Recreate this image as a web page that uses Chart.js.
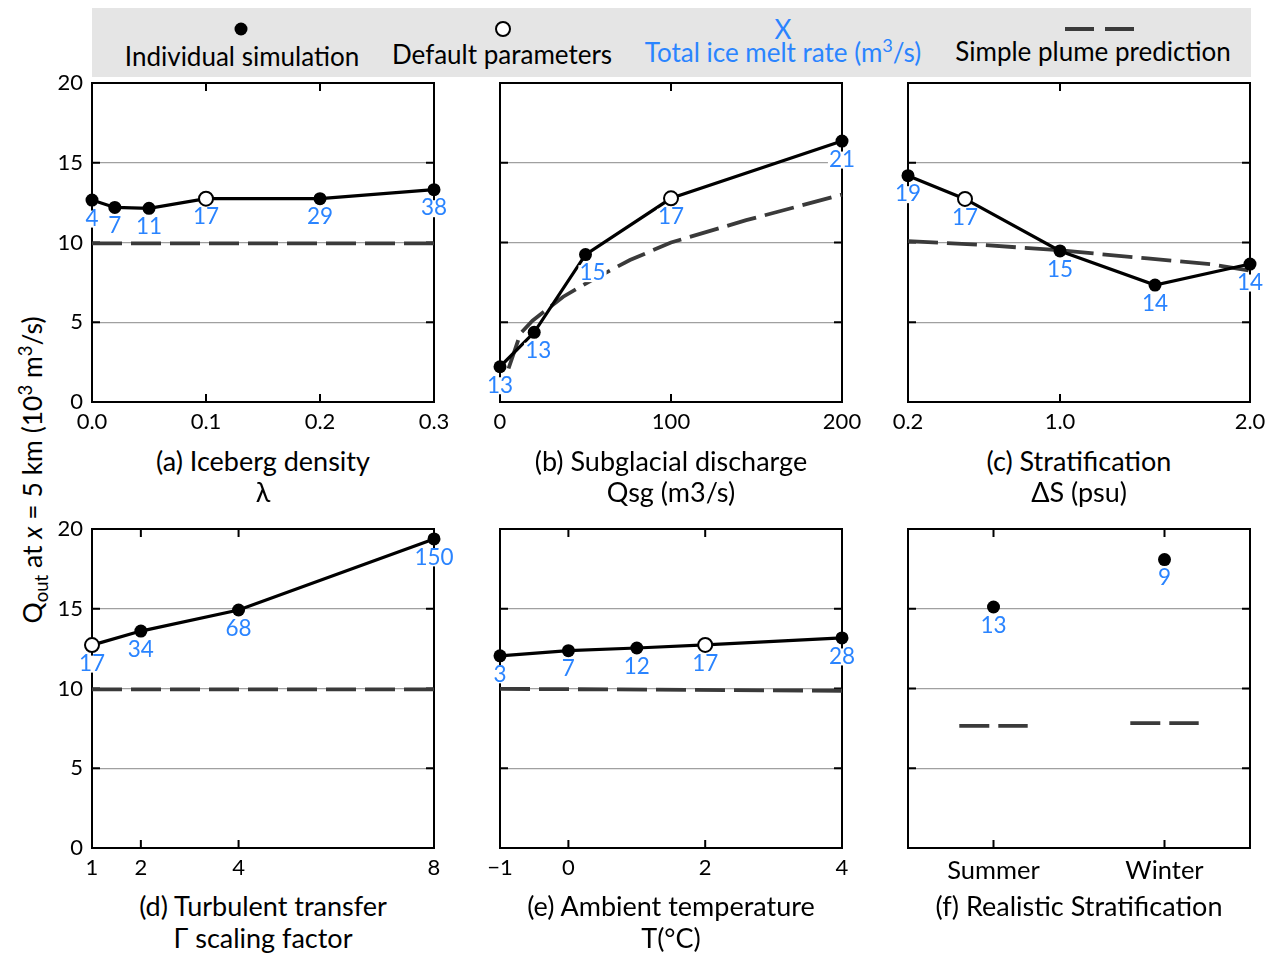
<!DOCTYPE html>
<html>
<head>
<meta charset="utf-8">
<script src="https://cdn.jsdelivr.net/npm/chart.js@4.4.1/dist/chart.umd.min.js"></script>
<style>
  body { margin: 0; width: 1274px; height: 953px; background: #fff; position: relative; font-family: Lato, "Noto Sans", sans-serif; color: #000; overflow: hidden; }
  canvas.panel { position: absolute; }
  .txt { position: absolute; white-space: nowrap; transform: translate(-50%, -50%); font-size: 26px; line-height: 1; }
  .cap { font-size: 27px; }
  #legend { position: absolute; left: 92px; top: 8px; width: 1159px; height: 69px; background: #e5e5e5; }
  .blue { color: #2a84ff; }
  sup, sub { font-size: 70%; line-height: 0; }
  #ylab { position: absolute; left: 32px; top: 470px; transform: translate(-50%, -50%) rotate(-90deg); font-size: 26.5px; white-space: nowrap; }
</style>
</head>
<body>
<div id="legend"></div>
<svg style="position:absolute;left:0;top:0" width="1274" height="80">
  <circle cx="241" cy="29" r="6.5" fill="#000"/>
  <circle cx="503" cy="29" r="7" fill="#fff" stroke="#000" stroke-width="2"/>
  <line x1="1065" y1="29" x2="1134" y2="29" stroke="#3a3a3a" stroke-width="4" stroke-dasharray="29 11"/>
</svg>
<div class="txt" style="left:242px;top:56px">Individual simulation</div>
<div class="txt" style="left:502px;top:54px">Default parameters</div>
<div class="txt blue" style="left:783px;top:29px">X</div>
<div class="txt blue" style="left:783px;top:52px">Total ice melt rate (m<sup>3</sup>/s)</div>
<div class="txt" style="left:1093px;top:51px">Simple plume prediction</div>

<div id="ylab">Q<sub>out</sub> at <i>x</i> = 5 km (10<sup>3</sup> m<sup>3</sup>/s)</div>

<canvas class="panel" id="pa"></canvas>
<canvas class="panel" id="pb"></canvas>
<canvas class="panel" id="pc"></canvas>
<canvas class="panel" id="pd"></canvas>
<canvas class="panel" id="pe"></canvas>
<canvas class="panel" id="pf"></canvas>

<div class="txt cap" style="left:263px;top:460px">(a) Iceberg density</div>
<div class="txt cap" style="left:263px;top:491px">λ</div>
<div class="txt cap" style="left:671px;top:460px">(b) Subglacial discharge</div>
<div class="txt cap" style="left:671px;top:491px">Qsg (m3/s)</div>
<div class="txt cap" style="left:1079px;top:460px">(c) Stratification</div>
<div class="txt cap" style="left:1079px;top:491px">ΔS (psu)</div>
<div class="txt cap" style="left:263px;top:905px">(d) Turbulent transfer</div>
<div class="txt cap" style="left:263px;top:937px">Γ scaling factor</div>
<div class="txt cap" style="left:671px;top:905px">(e) Ambient temperature</div>
<div class="txt cap" style="left:671px;top:937px">T(°C)</div>
<div class="txt cap" style="left:1079px;top:905px">(f) Realistic Stratification</div>

<script>
// shared y axis
const qTicks = [0, 5, 10, 15, 20];

// (a) iceberg density
const densX = [0, 0.02, 0.05, 0.1, 0.2, 0.3];
const densQ = [12.66, 12.2, 12.14, 12.75, 12.75, 13.31];
const densMelt = [4, 7, 11, 17, 29, 38];
const densPlumeX = [0, 0.3];
const densPlumeQ = [9.95, 9.95];
const densTicks = [0, 0.1, 0.2, 0.3];
const densTickLabels = ['0.0', '0.1', '0.2', '0.3'];

// (b) subglacial discharge
const qsgX = [0, 20, 50, 100, 200];
const qsgQ = [2.21, 4.37, 9.24, 12.77, 16.36];
const qsgMelt = [13, 13, 15, 17, 21];
const qsgPlumeX = [5, 12, 19, 37, 53, 76, 100, 144, 200];
const qsgPlumeQ = [2.1, 4.3, 5.1, 6.6, 7.6, 8.9, 10.0, 11.4, 13.0];
const qsgTicks = [0, 100, 200];
const qsgTickLabels = ['0', '100', '200'];

// (c) stratification
const stratX = [0.2, 0.5, 1.0, 1.5, 2.0];
const stratQ = [14.19, 12.73, 9.47, 7.33, 8.65];
const stratMelt = [19, 17, 15, 14, 14];
const stratPlumeX = [0.2, 0.6, 1.0, 1.46, 1.8, 2.0];
const stratPlumeQ = [10.09, 9.84, 9.51, 9.0, 8.63, 8.23];
const stratTicks = [0.2, 1.0, 2.0];
const stratTickLabels = ['0.2', '1.0', '2.0'];

// (d) turbulent transfer
const gammaX = [1, 2, 4, 8];
const gammaQ = [12.72, 13.6, 14.92, 19.38];
const gammaMelt = [17, 34, 68, 150];
const gammaPlumeX = [1, 8];
const gammaPlumeQ = [9.94, 9.94];
const gammaTicks = [1, 2, 4, 8];
const gammaTickLabels = ['1', '2', '4', '8'];

// (e) ambient temperature
const tempX = [-1, 0, 1, 2, 4];
const tempQ = [12.05, 12.37, 12.54, 12.73, 13.17];
const tempMelt = [3, 7, 12, 17, 28];
const tempPlumeX = [-1, 4];
const tempPlumeQ = [9.98, 9.86];
const tempTicks = [-1, 0, 2, 4];
const tempTickLabels = ['\u22121', '0', '2', '4'];

// (f) realistic stratification
const seasons = ['Summer', 'Winter'];
const seasonQ = [15.11, 18.08];
const seasonMelt = [13, 9];
const seasonPlumeQ = [7.66, 7.83];

const BLUE = '#2a84ff';
const DASH = '#3a3a3a';
const FONT = 'Lato, "Noto Sans", sans-serif';
const PAD_TOP = 30, PAD_LEFT = 60, PAD_RIGHT = 30, X_H = 35;

// frame with inward ticks + blue melt labels
const framePlugin = {
  id: 'frame',
  beforeDatasetsDraw(chart) {
    const {ctx, chartArea: a, scales} = chart;
    ctx.save();
    ctx.strokeStyle = '#000';
    ctx.lineWidth = 2;
    ctx.beginPath();
    scales.x.ticks.forEach(t => {
      const px = scales.x.getPixelForValue(t.value);
      ctx.moveTo(px, a.top); ctx.lineTo(px, a.top + 8);
      ctx.moveTo(px, a.bottom); ctx.lineTo(px, a.bottom - 8);
    });
    scales.y.ticks.forEach(t => {
      const py = scales.y.getPixelForValue(t.value);
      ctx.moveTo(a.left, py); ctx.lineTo(a.left + 8, py);
      ctx.moveTo(a.right, py); ctx.lineTo(a.right - 8, py);
    });
    ctx.stroke();
    ctx.strokeRect(a.left, a.top, a.right - a.left, a.bottom - a.top);
    ctx.restore();
  },
  afterDatasetsDraw(chart, args, opts) {
    const ctx = chart.ctx;
    const meta = chart.getDatasetMeta(0);
    const nudge = opts.nudge || {};
    ctx.save();
    ctx.font = '22.5px ' + FONT;
    ctx.textAlign = 'center';
    ctx.textBaseline = 'middle';
    meta.data.forEach((pt, i) => {
      const txt = String(opts.melt[i]);
      const x = pt.x + (nudge[i] || 0);
      const y = pt.y + 18.5;
      const w = ctx.measureText(txt).width;
      ctx.fillStyle = '#fff';
      ctx.fillRect(x - w / 2 - 1, y - 8, w + 2, 17);
      ctx.fillStyle = BLUE;
      ctx.fillText(txt, x, y);
    });
    ctx.restore();
  }
};

function makePanel(id, left, top, o) {
  const canvas = document.getElementById(id);
  canvas.width = PAD_LEFT + 342 + PAD_RIGHT;
  canvas.height = PAD_TOP + 319 + X_H;
  canvas.style.left = (left - PAD_LEFT) + 'px';
  canvas.style.top = (top - PAD_TOP) + 'px';
  const sim = o.x.map((v, i) => ({x: v, y: o.q[i]}));
  return new Chart(canvas, {
    type: 'scatter',
    data: {
      datasets: [{
        data: sim,
        showLine: o.line,
        borderColor: '#000',
        borderWidth: 3.2,
        pointRadius: sim.map((p, i) => i === o.def ? 7 : 6.5),
        pointBackgroundColor: sim.map((p, i) => i === o.def ? '#fff' : '#000'),
        pointBorderColor: '#000',
        pointBorderWidth: sim.map((p, i) => i === o.def ? 2 : 0),
        clip: false,
        order: 1
      }, {
        data: o.plume,
        showLine: true,
        spanGaps: false,
        borderColor: DASH,
        borderWidth: 3.8,
        borderDash: [30, 9],
        pointRadius: 0,
        tension: 0,
        clip: false,
        order: 2
      }]
    },
    options: {
      responsive: false,
      animation: false,
      devicePixelRatio: 1,
      layout: {padding: {left: 0, top: PAD_TOP, right: PAD_RIGHT, bottom: 0}},
      plugins: {
        legend: {display: false},
        tooltip: {enabled: false},
        frame: {melt: o.melt, nudge: o.nudge}
      },
      scales: {
        x: {
          type: 'linear',
          min: o.min, max: o.max,
          afterBuildTicks: s => { s.ticks = o.ticks.map(v => ({value: v})); },
          afterFit: s => { s.height = X_H; },
          grid: {display: false, drawTicks: false},
          border: {display: false},
          ticks: {
            font: {family: FONT, size: o.tickSize || 22}, color: '#000', padding: 7,
            autoSkip: false, maxRotation: 0,
            callback: (v, i) => o.tickLabels[i]
          }
        },
        y: {
          min: 0, max: 20,
          afterBuildTicks: s => { s.ticks = qTicks.map(v => ({value: v})); },
          afterFit: s => { s.width = PAD_LEFT; },
          grid: {
            drawTicks: false,
            color: c => (c.tick && (c.tick.value === 0 || c.tick.value === 20)) ? 'rgba(0,0,0,0)' : '#a0a0a0',
            lineWidth: 1.2
          },
          border: {display: false},
          ticks: {
            display: o.showY,
            font: {family: FONT, size: 22}, color: '#000', padding: 9,
            callback: v => String(v)
          }
        }
      }
    },
    plugins: [framePlugin]
  });
}

const pairs = (xs, ys) => xs.map((v, i) => ({x: v, y: ys[i]}));

const TOP1 = 83, TOP2 = 529;

makePanel('pa', 92, TOP1, {x: densX, q: densQ, melt: densMelt, def: 3, line: true,
  plume: pairs(densPlumeX, densPlumeQ), min: 0, max: 0.3, ticks: densTicks, tickLabels: densTickLabels, showY: true});
makePanel('pb', 500, TOP1, {x: qsgX, q: qsgQ, melt: qsgMelt, def: 3, line: true, nudge: {1: 4, 2: 7},
  plume: pairs(qsgPlumeX, qsgPlumeQ), min: 0, max: 200, ticks: qsgTicks, tickLabels: qsgTickLabels, showY: false});
makePanel('pc', 908, TOP1, {x: stratX, q: stratQ, melt: stratMelt, def: 1, line: true,
  plume: pairs(stratPlumeX, stratPlumeQ), min: 0.2, max: 2.0, ticks: stratTicks, tickLabels: stratTickLabels, showY: false});
makePanel('pd', 92, TOP2, {x: gammaX, q: gammaQ, melt: gammaMelt, def: 0, line: true,
  plume: pairs(gammaPlumeX, gammaPlumeQ), min: 1, max: 8, ticks: gammaTicks, tickLabels: gammaTickLabels, showY: true});
makePanel('pe', 500, TOP2, {x: tempX, q: tempQ, melt: tempMelt, def: 3, line: true,
  plume: pairs(tempPlumeX, tempPlumeQ), min: -1, max: 4, ticks: tempTicks, tickLabels: tempTickLabels, showY: false});

// (f): categories placed at 0 and 1 on a -0.5..1.5 axis, plume as short segments
const segHalf = 0.2;
const seasonPlume = [];
seasons.forEach((s, i) => {
  if (i > 0) seasonPlume.push({x: i - 0.5, y: null});
  seasonPlume.push({x: i - segHalf, y: seasonPlumeQ[i]}, {x: i + segHalf, y: seasonPlumeQ[i]});
});
makePanel('pf', 908, TOP2, {x: seasons.map((s, i) => i), q: seasonQ, melt: seasonMelt, def: -1, line: false,
  plume: seasonPlume, min: -0.5, max: 1.5, ticks: [0, 1], tickLabels: seasons, tickSize: 25.5, showY: false});
</script>
</body>
</html>
